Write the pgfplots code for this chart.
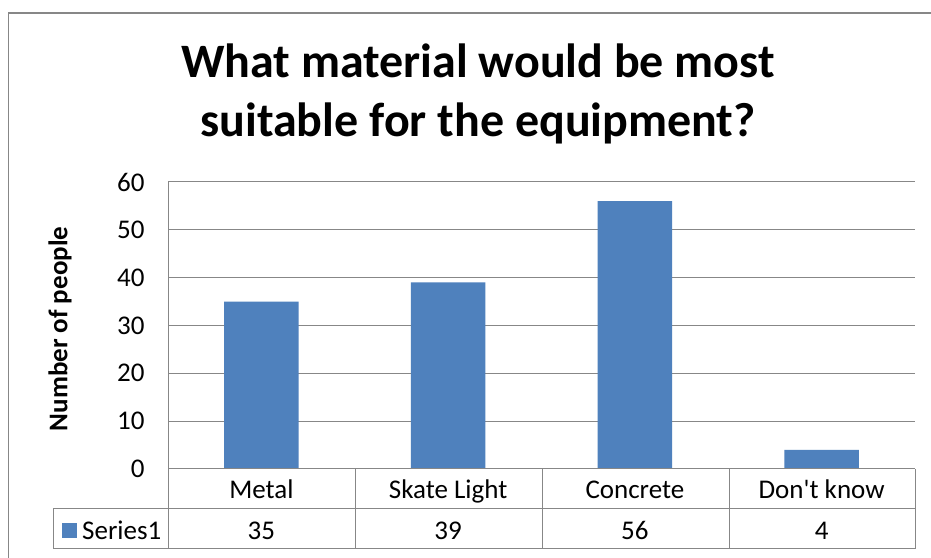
\documentclass[border=0pt]{standalone}
\usepackage{pgfplots}
\pgfplotsset{compat=1.18}
\usepackage{fontspec}
\setmainfont{Carlito}
\definecolor{barblue}{HTML}{4F81BD}
\definecolor{gridgray}{HTML}{878787}
\begin{document}
\begin{tikzpicture}[x=1bp,y=1bp]
\useasboundingbox (0,0) rectangle (931,558);
\clip (0,0) rectangle (931,558);
\fill[white] (0,0) rectangle (931,558);
\draw[gridgray, line width=1.5bp] (8.5,-10) rectangle (945,545);
\node[font=\bfseries\fontsize{48bp}{59bp}\selectfont, align=center] at (478,464) {What material would be most\\suitable for the equipment?};
\node[font=\bfseries\fontsize{27bp}{32bp}\selectfont, rotate=90] at (60,229) {Number of people};
\begin{axis}[
  at={(168bp,89bp)}, anchor=south west,
  scale only axis, width=747bp, height=287bp,
  xmin=-0.5, xmax=3.5, ymin=0, ymax=60,
  ytick={0,10,...,60},
  xtick={0,1,2,3},
  xticklabels={Metal, Skate Light, Concrete, Don\textquotesingle t know},
  ymajorgrids, grid style={gridgray, line width=1bp},
  axis line style={draw=none},
  major tick length=0pt,
  ticklabel style={font=\fontsize{27bp}{32bp}\selectfont},
  /pgf/number format/assume math mode=true,
  yticklabel style={xshift=-20bp},
  xticklabel style={anchor=base, yshift=-30bp},
  ybar, bar width=0.4,
  clip=false,
]
\addplot[fill=barblue, draw=none] coordinates {(0,35) (1,39) (2,56) (3,4)};
\end{axis}
\begin{scope}[gridgray, line width=1bp]
\draw (168,89) -- (915,89);
\draw (53,49) -- (915,49);
\draw (53,9) -- (915,9);
\draw (53,9) -- (53,49);
\draw (168,9) -- (168,376);
\foreach \x in {355.75,542.5,729.25,915} \draw (\x,9) -- (\x,89);
\end{scope}
\fill[barblue] (62,20) rectangle (77,35);
\begin{scope}[font=\fontsize{27bp}{32bp}\selectfont]
\node[anchor=base west, inner sep=0] at (82,18) {Series1};
\node[anchor=base, inner sep=0] at (261.4,18) {35};
\node[anchor=base, inner sep=0] at (448.1,18) {39};
\node[anchor=base, inner sep=0] at (634.9,18) {56};
\node[anchor=base, inner sep=0] at (821.6,18) {4};
\end{scope}
\end{tikzpicture}
\end{document}
